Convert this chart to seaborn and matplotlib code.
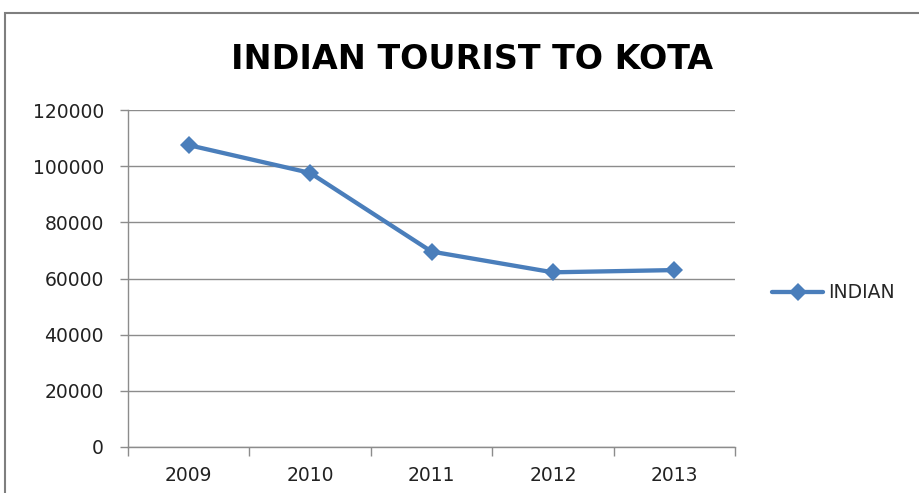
import matplotlib
matplotlib.use("Agg")
import matplotlib.pyplot as plt
import matplotlib.patches as mpatches
from matplotlib.ticker import FixedLocator
import pandas as pd
import seaborn as sns

years = ["2009", "2010", "2011", "2012", "2013"]
indian = [107500, 97600, 69600, 62200, 63000]

df = pd.DataFrame({"Year": years, "INDIAN": indian})

sns.set_style("white")
plt.rcParams["font.family"] = ["DejaVu Sans"]

fig = plt.figure(figsize=(9.19, 4.93), dpi=100)
ax = fig.add_axes([128 / 919, 46 / 493, 607 / 919, 337 / 493])

sns.lineplot(data=df, x="Year", y="INDIAN", ax=ax, color="#4a7ebb",
             linewidth=3.1, marker="D", markersize=9.6, markeredgewidth=0,
             label="INDIAN", sort=False)

# y axis
ax.set_ylim(0, 120000)
ax.set_yticks(range(0, 120001, 20000))
ax.yaxis.grid(True, color="#8c8c8c", linewidth=1)
ax.tick_params(axis="y", direction="out", length=5.8, width=1, color="#8c8c8c",
               labelsize=13.5, labelcolor="#222222", pad=11.5, left=True)

# x axis: categories with ticks between them
ax.set_xlim(-0.5, 4.5)
ax.xaxis.set_minor_locator(FixedLocator([i - 0.5 for i in range(len(years) + 1)]))
ax.tick_params(axis="x", which="major", length=0, labelsize=13.5,
               labelcolor="#222222", pad=14)
ax.tick_params(axis="x", which="minor", direction="out", length=6.3, width=1,
               color="#8c8c8c", bottom=True)
ax.set_xlabel("")
ax.set_ylabel("")

for s in ["top", "right"]:
    ax.spines[s].set_visible(False)
for s in ["left", "bottom"]:
    ax.spines[s].set_color("#8c8c8c")
    ax.spines[s].set_linewidth(1)

fig.text(0.5135, 1 - 69 / 493, "INDIAN TOURIST TO KOTA", ha="center", va="baseline",
         fontsize=24, fontweight="bold", color="black")

ax.legend(loc="center left", bbox_to_anchor=(1.049, 0.457), frameon=False,
          fontsize=13.5, handlelength=2.7, handletextpad=0.3,
          borderaxespad=0)

# chart frame (partly cropped)
fig.patches.append(mpatches.Rectangle((5 / 919, -0.1), 1.2, 1 - 13 / 493 + 0.1,
                                      transform=fig.transFigure, fill=False,
                                      edgecolor="#7f7f7f", linewidth=1.5))

fig.savefig("out.png", dpi=100)
